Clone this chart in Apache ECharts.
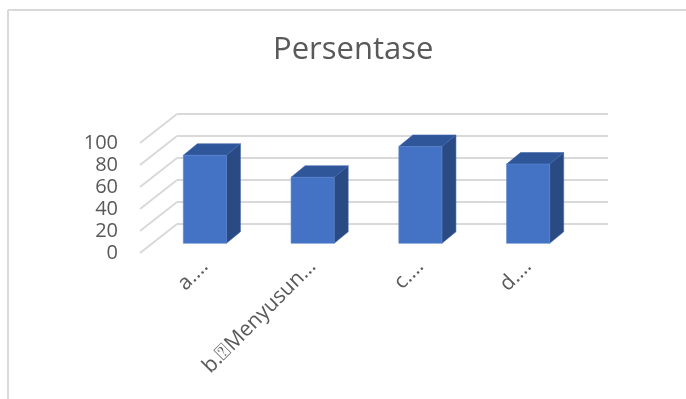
<!DOCTYPE html>
<html>
<head>
<meta charset="utf-8">
<script src="https://cdn.jsdelivr.net/npm/echarts@6/dist/echarts.min.js"></script>
<style>
html,body{margin:0;padding:0;background:#fff;}
#chart{width:686px;height:399px;}
</style>
</head>
<body>
<div id="chart"></div>
<script>
var titleText = 'Persentase';
var categories = ['a.\u2026', 'b.\u2370Menyusun\u2026', 'c.\u2026', 'd.\u2026'];
var values = [80, 60, 88, 72];
var yTicks = [0, 20, 40, 60, 80, 100];

var FONT = '"Open Sans", "DejaVu Sans", sans-serif';
var DX = 14, DY = -11.5;       // bar depth offset
var GDX = 37, GDY = -29;       // floor/side-wall depth offset

var chart = echarts.init(document.getElementById('chart'), null, {renderer: 'canvas'});

var option = {
  backgroundColor: '#ffffff',
  animation: false,
  title: {
    text: titleText,
    left: 268, top: 30,
    textStyle: {fontFamily: FONT, fontSize: 31, fontWeight: 'normal', color: '#595959'}
  },
  graphic: [
    {type: 'line', shape: {x1: 8, y1: 10, x2: 8, y2: 399}, style: {stroke: '#d9d9d9', lineWidth: 2}},
    {type: 'line', shape: {x1: 8, y1: 10, x2: 686, y2: 10}, style: {stroke: '#d9d9d9', lineWidth: 2}}
  ],
  grid: [
    // back wall
    {left: 177, right: 78, top: 114, bottom: 175},
    // front (labels + floor diagonals)
    {left: 140, width: 10, top: 143, bottom: 146},
    // bar plane
    {left: 151, right: 104, top: 133.3, bottom: 155.7}
  ],
  xAxis: [
    {gridIndex: 0, type: 'category', data: categories, show: false},
    {gridIndex: 1, type: 'value', min: 0, max: 1, show: false},
    {gridIndex: 2, type: 'category', data: categories,
     axisLine: {show: false}, axisTick: {show: false},
     axisLabel: {interval: 0, rotate: 45, margin: 20, fontFamily: FONT, fontSize: 21, color: '#595959'}}
  ],
  yAxis: [
    {gridIndex: 0, type: 'value', min: 0, max: 100, interval: 20,
     axisLine: {show: false}, axisTick: {show: false}, axisLabel: {show: false},
     splitLine: {show: true, lineStyle: {color: '#d9d9d9', width: 2}}},
    {gridIndex: 1, type: 'value', min: 0, max: 100, interval: 20,
     axisLine: {show: false}, axisTick: {show: false}, splitLine: {show: false},
     axisLabel: {margin: 22, fontFamily: FONT, fontSize: 20, color: '#595959'}},
    {gridIndex: 2, type: 'value', min: 0, max: 100, show: false}
  ],
  series: [
    {
      type: 'custom', xAxisIndex: 1, yAxisIndex: 1, silent: true,
      data: yTicks.map(function (t) { return [0, t]; }),
      renderItem: function (params, api) {
        var p = api.coord([0, api.value(1)]);
        return {type: 'line', shape: {x1: p[0], y1: p[1], x2: p[0] + GDX, y2: p[1] + GDY},
                style: {stroke: '#d9d9d9', lineWidth: 2}};
      }
    },
    {
      type: 'custom', xAxisIndex: 2, yAxisIndex: 2, silent: true,
      data: values.map(function (v, i) { return [i, v]; }),
      renderItem: function (params, api) {
        var i = api.value(0), v = api.value(1);
        var top = api.coord([i, v]);
        var base = api.coord([i, 0]);
        var w = api.size([1, 0])[0] * 0.4;
        var x0 = top[0] - w / 2, x1 = top[0] + w / 2, yt = top[1], yb = base[1];
        return {type: 'group', children: [
          {type: 'polygon', shape: {points: [[x1, yt], [x1, yb], [x1 + DX, yb + DY], [x1 + DX, yt + DY]]},
           style: {fill: '#2a4a84', stroke: '#3c63a8', lineWidth: 0.6}},
          {type: 'polygon', shape: {points: [[x0, yt], [x1, yt], [x1 + DX, yt + DY], [x0 + DX, yt + DY]]},
           style: {fill: '#30569a', stroke: '#3c63a8', lineWidth: 0.6}},
          {type: 'rect', shape: {x: x0, y: yt, width: w, height: yb - yt},
           style: {fill: '#4472c4', stroke: '#5a85cf', lineWidth: 0.6}}
        ]};
      }
    }
  ]
};
chart.setOption(option);
</script>
</body>
</html>
